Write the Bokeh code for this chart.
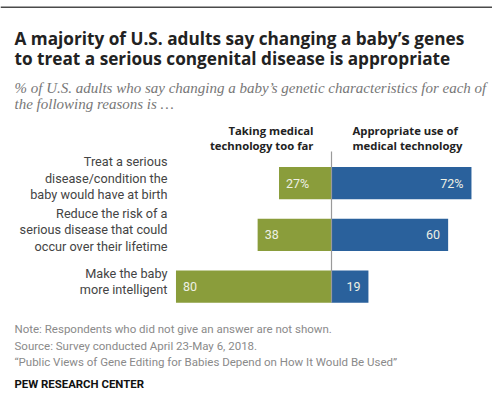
from bokeh.plotting import figure
from bokeh.models import Range1d, ColumnDataSource, Span
from bokeh.core.properties import value
from bokeh.embed import file_html
from bokeh.resources import INLINE

# ---- data ----
categories = [
    "Treat a serious\ndisease/condition the\nbaby would have at birth",
    "Reduce the risk of a\nserious disease that could\noccur over their lifetime",
    "Make the baby\nmore intelligent",
]
too_far = [27, 38, 80]
appropriate = [72, 60, 19]
too_far_labels = ["27%", "38", "80"]
appropriate_labels = ["72%", "60", "19"]
header_left = ["Taking medical", "technology too far"]
header_right = ["Appropriate use of", "medical technology"]
title_lines = ["A majority of U.S. adults say changing a baby\u2019s genes",
               "to treat a serious congenital disease is appropriate"]
subtitle_lines = ["% of U.S. adults who say changing a baby\u2019s genetic characteristics for each of",
                  "the following reasons is \u2026"]
note_lines = ["Note: Respondents who did not give an answer are not shown.",
              "Source: Survey conducted April 23-May 6, 2018.",
              "\u201cPublic Views of Gene Editing for Babies Depend on How It Would Be Used\u201d"]
credit = "PEW RESEARCH CENTER"

GREEN = "#8a9d3b"
BLUE = "#2a619c"

# ---- layout ----
W, H = 492, 398
K = 1.944          # px per percentage point
CX = 331           # canvas px of zero line
S = 51.75          # px per row
R0 = 182.6         # canvas px of first row centre

def X(px):
    return (px - CX) / K

def Y(px):
    return (px - R0) / S

p = figure(width=W, height=H, output_backend="svg", toolbar_location=None,
           x_range=Range1d(-CX / K, (W - CX) / K),
           y_range=Range1d((H - R0) / S, -R0 / S),
           min_border=0, outline_line_color=None,
           x_axis_location=None, y_axis_location=None)
p.grid.visible = False
p.background_fill_color = "white"
p.border_fill_color = "white"

rows = list(range(len(categories)))
src = ColumnDataSource(dict(y=rows, tf=[-v for v in too_far], ap=appropriate,
                            tfl=too_far_labels, apl=appropriate_labels,
                            cat=categories))

# top rule
p.add_layout(Span(location=Y(6.8), dimension="width", line_color="#4a4a4a", line_width=1.6))

p.hbar(y="y", left="tf", right=0, height=0.62, fill_color=GREEN, line_color=None, source=src)
p.hbar(y="y", left=0, right="ap", height=0.62, fill_color=BLUE, line_color=None, source=src)

# zero line
p.segment(x0=0, x1=0, y0=Y(151), y1=Y(302), line_color="#9a9a9a", line_width=1.2)

# value labels
p.text(x="tf", y="y", text="tfl", source=src, x_offset=7, text_align="left",
       text_baseline="middle", text_color="#eef0e4", text_font_size="12.5px",
       text_font=value("Roboto"))
p.text(x="ap", y="y", text="apl", source=src, x_offset=-8, text_align="right",
       text_baseline="middle", text_color="#eef0e4", text_font_size="12.5px",
       text_font=value("Roboto"))

# category labels
p.text(x=X(167), y="y", text="cat", source=src, text_align="right",
       text_baseline="middle", y_offset=-5, text_color="#444444",
       text_font_size="12.7px", text_font=value("Roboto"), text_line_height=1.12)

# headers
p.text(x=[X(313)] * 2, y=[Y(130), Y(145)], text=header_left, text_align="right",
       text_baseline="alphabetic", text_color="#222222", text_font_size="11.3px",
       text_font_style="bold", text_font=value("Open Sans"))
p.text(x=[X(352)] * 2, y=[Y(130), Y(145)], text=header_right, text_align="left",
       text_baseline="alphabetic", text_color="#222222", text_font_size="11.3px",
       text_font_style="bold", text_font=value("Open Sans"))

# title
p.text(x=[X(14)] * 2, y=[Y(37.5), Y(58)], text=title_lines, text_align="left",
       text_baseline="alphabetic", text_color="#222222", text_font_size="17.2px",
       text_font_style="bold", text_font=value("Open Sans"))

# subtitle
p.text(x=[X(14)] * 2, y=[Y(87), Y(103)], text=subtitle_lines, text_align="left",
       text_baseline="alphabetic", text_color="#777777", text_font_size="15px",
       text_font_style="italic", text_font=value("Liberation Serif"))

# notes
p.text(x=[X(14)] * 3, y=[Y(328.5), Y(345), Y(361.5)], text=note_lines, text_align="left",
       text_baseline="alphabetic", text_color="#8a8a8a", text_font_size="11.5px",
       text_font=value("Roboto"))

p.text(x=[X(14)], y=[Y(383)], text=[credit], text_align="left",
       text_baseline="alphabetic", text_color="#111111", text_font_size="11.4px",
       text_font_style="bold", text_font=value("Roboto"))

open("out.html", "w").write(file_html(p, INLINE))
